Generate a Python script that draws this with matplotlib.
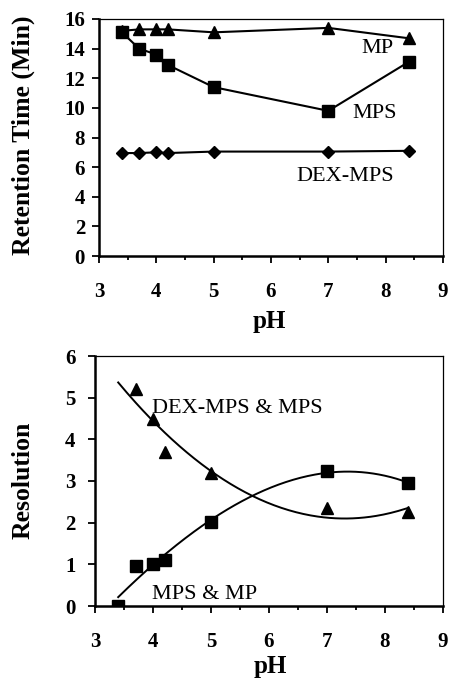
import numpy as np
import matplotlib
matplotlib.use("Agg")
import matplotlib.pyplot as plt
from matplotlib.ticker import MultipleLocator

plt.rcParams['font.family'] = ['Liberation Serif', 'DejaVu Serif']

# retention time vs pH
ph = [3.4, 3.7, 4.0, 4.2, 5.0, 7.0, 8.4]
rt_mp = [15.2, 15.3, 15.3, 15.3, 15.1, 15.4, 14.7]
rt_mps = [15.1, 14.0, 13.6, 12.9, 11.4, 9.8, 13.1]
rt_dex = [6.95, 6.95, 7.0, 6.95, 7.05, 7.05, 7.1]

# resolution vs pH
ph_dex_mps = [3.7, 4.0, 4.2, 5.0, 7.0, 8.4]
res_dex_mps = [5.2, 4.5, 3.7, 3.2, 2.35, 2.25]
ph_mps_mp = [3.4, 3.7, 4.0, 4.2, 5.0, 7.0, 8.4]
res_mps_mp = [0.0, 0.97, 1.0, 1.1, 2.02, 3.23, 2.95]

W, H = 450, 680
fig = plt.figure(figsize=(W / 100, H / 100), dpi=100)


def style_axes(ax, ypad):
    ax.set_xlim(3, 9)
    ax.xaxis.set_major_locator(MultipleLocator(1))
    ax.xaxis.set_minor_locator(MultipleLocator(0.5))
    ax.tick_params(axis='x', which='major', direction='out', length=5, width=1.3, pad=13.5, labelsize=15)
    ax.tick_params(axis='x', which='minor', direction='out', length=3, width=1.3)
    ax.tick_params(axis='y', which='major', direction='out', length=5, width=1.3, pad=ypad, labelsize=15)
    for lab in ax.get_xticklabels() + ax.get_yticklabels():
        lab.set_fontweight('bold')
    ax.spines['left'].set_linewidth(1.8)
    ax.spines['bottom'].set_linewidth(1.8)
    ax.spines['top'].set_linewidth(0.9)
    ax.spines['right'].set_linewidth(0.9)


# top panel
ax1 = fig.add_axes([99 / W, 1 - 256 / H, 344 / W, 237 / H])
ax1.plot(ph, rt_mp, color='black', lw=1.5, marker='^', ms=8.5, zorder=3)
ax1.plot(ph, rt_mps, color='black', lw=1.5, marker='s', ms=8, zorder=4)
ax1.plot(ph, rt_dex, color='black', lw=1.5, marker='D', ms=6.5, zorder=3)
ax1.set_ylim(0, 16)
ax1.yaxis.set_major_locator(MultipleLocator(2))
style_axes(ax1, 5)
ax1.text(7.85, 14.0, 'MP', fontsize=16, ha='center', va='center')
ax1.text(7.8, 9.6, 'MPS', fontsize=16, ha='center', va='center')
ax1.text(7.3, 5.4, 'DEX-MPS', fontsize=16, ha='center', va='center')
ax1.set_ylabel('Retention Time (Min)', fontsize=18.5, fontweight='bold', va='center')
ax1.yaxis.set_label_coords(-0.22, 0.51)
ax1.set_xlabel('pH', fontsize=18, fontweight='bold', va='center')
ax1.xaxis.set_label_coords(0.496, -0.278)

# bottom panel
ax2 = fig.add_axes([95 / W, 1 - 606 / H, 348 / W, 250 / H])
ax2.plot(ph_dex_mps, res_dex_mps, ls='none', color='black', marker='^', ms=8.5, zorder=3)
ax2.plot(ph_mps_mp, res_mps_mp, ls='none', color='black', marker='s', ms=8, zorder=3)

# trendlines through the points
xs = np.linspace(3.4, 8.4, 200)
c1 = np.polyfit(ph_dex_mps, res_dex_mps, 2)
c2 = np.polyfit(ph_mps_mp, res_mps_mp, 3)
ax2.plot(xs, np.polyval(c1, xs), color='black', lw=1.4)
ax2.plot(xs, np.polyval(c2, xs), color='black', lw=1.4)

ax2.set_ylim(0, 6)
ax2.yaxis.set_major_locator(MultipleLocator(1))
style_axes(ax2, 9)
ax2.text(3.98, 4.74, 'DEX-MPS & MPS', fontsize=16, ha='left', va='center')
ax2.text(3.98, 0.27, 'MPS & MP', fontsize=16, ha='left', va='center')
ax2.set_ylabel('Resolution', fontsize=18.5, fontweight='bold', va='center')
ax2.yaxis.set_label_coords(-0.207, 0.504)
ax2.set_xlabel('pH', fontsize=18, fontweight='bold', va='center')
ax2.xaxis.set_label_coords(0.503, -0.244)

fig.savefig('out.png', dpi=100)
